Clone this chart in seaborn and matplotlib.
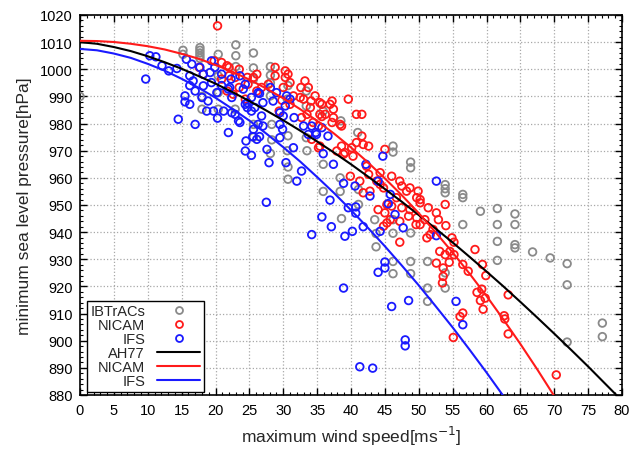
import matplotlib
matplotlib.use("Agg")
import matplotlib.pyplot as plt
from matplotlib.lines import Line2D
from matplotlib.ticker import MultipleLocator
import seaborn as sns
import pandas as pd

# ---------------- data ----------------
ibtracs_v = [0, 15.2, 15.2, 17.7, 17.7, 17.7, 17.7, 17.7, 18, 18, 20.4, 20.4, 20.4, 20.4,
             23, 23, 23, 22.9, 25.6, 25.6, 25.6, 25.6, 25.6, 28.1, 28.1, 28.1, 28.1, 28.3,
             28.3, 28.1, 30.7, 30.6, 30.7, 30.6, 30.7, 30.7, 33.4, 33.4, 33.4, 33.5, 35.9,
             35.9, 35.9, 38.5, 38.4, 38.4, 38.6, 41, 41.1, 41.1, 43.5, 43.7, 43.7, 46.2,
             46.2, 46.2, 46.2, 46.2, 46.2, 48.8, 48.8, 48.8, 48.8, 48.8, 51.3, 51.3, 51.3,
             53.9, 53.9, 53.9, 53.9, 53.9, 56.5, 56.5, 56.5, 59.1, 61.6, 61.6, 61.6, 61.6,
             64.2, 64.2, 64.2, 64.2, 66.8, 69.4, 71.9, 71.9, 71.9, 77.1, 77.1]
ibtracs_p = [990, 1007, 1005.5, 1008, 1007, 1006, 1005, 1004, 990, 985.3, 1005.5, 997.6,
             991.4, 985.3, 1009, 1005, 1001, 985.3, 1006, 1000.5, 996.4, 979.7, 975, 1001,
             997.8, 995, 990.2, 979.7, 974, 969, 994, 989, 975.5, 970, 964, 959.5, 992,
             986.5, 974.8, 970, 984.6, 965, 955, 981, 960, 955, 945, 976.7, 955.7, 950.2,
             944.6, 939.5, 934.6, 971.7, 969.5, 944.6, 939.6, 929.2, 924.7, 965.8, 963.7,
             939.7, 929.2, 924.7, 929.2, 919.4, 914.5, 957.5, 956, 954.5, 925, 919.4, 953.9,
             952.7, 942.8, 947.7, 948.7, 942.8, 936.6, 929.6, 946.7, 942.8, 935.4, 934.2,
             932.7, 930.5, 928.4, 920.6, 899.5, 906.5, 901.5]

nicam_pts = [
    (20.3, 1016), (17.6, 1000.7), (18.2, 998.2), (19.8, 1003.1), (20.9, 1002.5), (21.7, 1001.3),
    (22, 1000.7), (22, 997.6), (20.9, 996.4), (22.9, 997), (24.7, 997), (25.6, 997), (26.1, 998.2),
    (24.8, 994.5), (23.5, 993.3), (22.6, 990.8), (24.4, 989), (26.8, 993.3), (27.8, 994.5),
    (28.8, 1000.7), (28.8, 997.6), (30.3, 999.4), (30.3, 997), (30.7, 998.2), (31, 995.1),
    (30, 993.3), (31.5, 990.2), (32.5, 989.6), (32.6, 993.3), (32.7, 982.2), (33.5, 983.4),
    (34, 985.9), (34.1, 988.3), (34.7, 990.2), (33.7, 993.3), (33.2, 995.7), (35.2, 979.1),
    (35.4, 983.4), (34.2, 974.2), (35.2, 971.1), (26.1, 992), (21.7, 992), (23.5, 1000),
    (29.4, 984.6), (29.8, 988.6), (31, 987.1), (35.4, 987.7), (36.9, 987.1), (37.4, 982.2),
    (38.4, 979.7), (33, 989), (35.7, 987.1), (37.2, 988.3), (37.4, 985.3), (39.6, 989),
    (35.7, 982.6), (36.2, 983.4), (37.2, 980.4), (38.6, 979.1), (34.4, 980.4), (40.8, 983.4),
    (41.6, 983.4), (41.6, 975.4), (41.8, 972.3), (40.8, 973), (42.6, 971.7), (40.1, 971.1),
    (39.1, 969.3), (35.4, 971.7), (37.9, 969.9), (38.6, 971.7), (38.9, 968.7), (40.3, 968),
    (45, 970.5), (39.9, 960.6), (41.3, 958.8), (42.3, 964.3), (42.6, 961.3), (43.8, 958.8),
    (44.3, 961.9), (42.8, 955.1), (41.8, 954.5), (44.3, 957.6), (44.8, 956.3), (46, 960.6),
    (47.2, 958.8), (47.5, 957), (48.2, 955.1), (48.7, 956.3), (49.9, 955.1), (49.7, 952.7),
    (46.7, 952.7), (46, 949.6), (47.5, 949), (48.7, 948.3), (50.2, 950.8), (51.4, 949),
    (53.9, 950.2), (52.6, 947.1), (52.9, 944.6), (49.7, 945.3), (48.5, 945.9), (45, 947.1),
    (45.8, 944.6), (47.2, 944), (50.2, 942.8), (44.8, 942.2), (45.3, 950.2), (44, 948.3),
    (50.2, 952), (54, 942.4), (52.1, 941), (50.9, 944.6), (49.6, 942.8), (45.3, 943.4),
    (54.9, 937.9), (55.2, 936.3), (54.6, 932.9), (55.2, 931.7), (54.5, 928.9), (53.6, 926.8),
    (53.6, 923.7), (53.5, 921.3), (56.5, 928.1), (57.3, 925.6), (58.3, 933.6), (59.4, 928.1),
    (59.9, 924), (58.6, 917.8), (59.3, 919), (59.8, 915.7), (59.1, 914.8), (59.5, 911.6),
    (63.2, 916.9), (62.6, 909.2), (62.7, 908), (63.2, 902.5), (56.1, 908.9), (56.5, 910.2),
    (55.1, 901.2), (70.3, 887.4), (47.2, 936.3), (51.2, 937.9), (52.6, 928.6), (53.9, 931.7),
    (53.1, 932.9), (51.7, 939.1),
]

ifs_pts = [
    (9.7, 996.4), (10.3, 1005), (11.2, 1004.6), (12.1, 1001.3), (13.1, 999.4), (14.3, 1000.3),
    (14.5, 981.6), (15.5, 990.2), (15.5, 988), (16.2, 987.1), (15.7, 1003.7), (16.5, 1001.9),
    (16.2, 997.6), (16.7, 995.7), (16.2, 994), (17, 992), (17.7, 1000.7), (18.2, 998.2),
    (18.2, 993.9), (18, 989.6), (17, 979.7), (18.9, 988.3), (18.7, 984.6), (19.4, 1003.1),
    (19.9, 1000.7), (19.2, 998.8), (19.4, 995.1), (20.2, 991.4), (20.3, 982), (19.7, 984.6),
    (20.9, 998.2), (20.9, 994), (21.2, 984.6), (21.9, 976.7), (22.4, 984), (23.4, 981),
    (22.4, 989.6), (21.9, 992.7), (24.5, 973.6), (24.4, 969.9), (25.3, 968.3), (25.5, 975.2),
    (26.5, 975.2), (26.3, 979.7), (27, 979.1), (27.6, 970.5), (27.9, 965.6), (27.5, 951),
    (29.5, 979.7), (29.9, 977.9), (30.4, 965.6), (31.5, 971.1), (32, 958.8), (32.7, 962.5),
    (24.7, 987.7), (24.7, 985.9), (25.8, 985.9), (26.3, 991.4), (28.1, 993.3), (25.3, 989.6),
    (24.1, 992.7), (23.6, 997.6), (22.1, 993.3), (22.3, 996.4), (29.5, 984), (30, 982.8),
    (30.3, 986.5), (30.5, 990.2), (31, 989), (31.6, 982.2), (33, 979.1), (34.2, 979.1),
    (33.7, 976), (34.8, 976.7), (29, 991.4), (24.4, 994.5), (26.5, 991.1), (28.5, 988.3),
    (27, 987.7), (24.4, 987.1), (22.9, 983.4), (25.3, 984.6), (26.8, 982.8), (25.6, 977.9),
    (35.7, 978.5), (23.6, 980.4), (26.1, 974.2), (29.5, 974.8), (35.9, 968.9), (37.4, 965),
    (36.9, 951.8), (38.9, 958), (40.6, 957), (39.6, 949), (40.7, 949.3), (40.7, 947),
    (42.2, 965), (42.8, 953.3), (44, 958.8), (44.7, 968), (45.5, 950.5), (35.7, 945.6),
    (37.1, 942), (34.2, 939.1), (39.1, 938.5), (40.2, 940.3), (41.8, 942), (44.3, 940.3),
    (45, 929), (45, 926.8), (44, 925.2), (38.9, 919.4), (48.5, 914.8), (46, 912.6),
    (48, 900.3), (48, 898.1), (41.3, 890.4), (43.2, 889.9), (55.5, 914.5), (56.5, 905.9),
    (46.5, 946.5), (47.7, 941.6), (52.6, 938.7), (34.9, 976), (36.6, 975.4), (45.8, 953.9),
    (52.6, 958.8),
]

# fitted curves (values read every 2.5 m/s)
curve_v = [0, 2.5, 5, 7.5, 10, 12.5, 15, 17.5, 20, 22.5, 25, 27.5, 30, 32.5, 35, 37.5, 40,
           42.5, 45, 47.5, 50, 52.5, 55, 57.5, 60, 62.5, 65, 67.5, 70, 72.5, 75, 77.5, 80]
ah77_p = [1010, 1009.4, 1008.2, 1006.7, 1004.8, 1002.6, 1000.2, 997.5, 994.7, 991.6, 988.3,
          984.8, 981.2, 977.4, 973.4, 969.3, 965, 960.5, 955.9, 951.2, 946.3, 941.3, 936.2,
          930.9, 925.5, 920, 914.3, 908.5, 902.6, 896.6, 890.5, 884.2, 877.9]
nicam_fit_p = [1010.5, 1010.4, 1010.05, 1009.4, 1008.5, 1007.3, 1005.7, 1003.9, 1001.6,
               999.1, 996.2, 992.9, 989.3, 985.3, 981, 976.3, 971.2, 965.7, 959.8, 953.6,
               947, 939.9, 932.5, 924.7, 916.5, 907.8, 898.8, 889.4, 879.6, 869.2, 859.8,
               850, 838]
ifs_fit_p = [1007.5, 1007, 1005.8, 1004.2, 1002, 999.5, 996.5, 993.2, 989.5, 985.4, 981.1,
             976.3, 971.3, 966, 960.3, 954.4, 948.1, 941.6, 934.8, 927.7, 920.4, 912.7,
             904.9, 896.7, 888.3, 879.6, 870.7, 861, 852, 842, 832, 821, 811]

x_ticks = list(range(0, 81, 5))
y_ticks = list(range(880, 1021, 10))

# ---------------- plotting ----------------
sns.set_style("ticks")
plt.rcParams["font.family"] = ["Liberation Sans", "DejaVu Sans"]

GRAY = "#8a8a8a"
RED = "#ff1a1a"
BLUE = "#1a1aff"

fig = plt.figure(figsize=(6.33, 4.52), dpi=100)
ax = fig.add_axes([80 / 633, 1 - 396 / 452, 542 / 633, 380 / 452])

df_ib = pd.DataFrame({"v": ibtracs_v, "p": ibtracs_p})
df_ni = pd.DataFrame(nicam_pts, columns=["v", "p"])
df_if = pd.DataFrame(ifs_pts, columns=["v", "p"])

sc_kw = dict(marker="o", s=30, facecolors="none", linewidth=1.3, legend=False, zorder=3)
sns.scatterplot(data=df_ib, x="v", y="p", ax=ax, edgecolors=GRAY, **sc_kw)
sns.scatterplot(data=df_ni, x="v", y="p", ax=ax, edgecolors=RED, **sc_kw)
sns.scatterplot(data=df_if, x="v", y="p", ax=ax, edgecolors=BLUE, **sc_kw)

df_c = pd.DataFrame({"v": curve_v, "ah": ah77_p, "ni": nicam_fit_p, "if": ifs_fit_p})
sns.lineplot(data=df_c, x="v", y="ah", ax=ax, color="black", linewidth=1.5, zorder=4)
sns.lineplot(data=df_c, x="v", y="ni", ax=ax, color=RED, linewidth=1.5, zorder=4)
sns.lineplot(data=df_c, x="v", y="if", ax=ax, color=BLUE, linewidth=1.5, zorder=4)

ax.set_xlim(0, 80)
ax.set_ylim(880, 1020)
ax.set_xticks(x_ticks)
ax.set_yticks(y_ticks)
ax.xaxis.set_minor_locator(MultipleLocator(1))
ax.yaxis.set_minor_locator(MultipleLocator(2))
ax.tick_params(which="both", direction="in", top=True, right=True, colors="black",
               labelsize=10.5)
ax.tick_params(which="major", length=5, width=1)
ax.tick_params(which="minor", length=2.5, width=0.8)
ax.tick_params(axis="x", pad=6)
ax.tick_params(axis="y", pad=5)
ax.grid(True, which="major", linestyle=":", color="#a8a8a8", linewidth=0.9)
ax.set_axisbelow(True)
for s in ax.spines.values():
    s.set_color("black")
    s.set_linewidth(1.2)

ax.set_xlabel("maximum wind speed[ms$^{-1}$]", fontsize=12.5, labelpad=5)
ax.set_ylabel("minimum sea level pressure[hPa]", fontsize=12.5, labelpad=6)

handles = [
    Line2D([], [], linestyle="none", marker="o", markerfacecolor="none",
           markeredgecolor=GRAY, markersize=5, markeredgewidth=1.3),
    Line2D([], [], linestyle="none", marker="o", markerfacecolor="none",
           markeredgecolor=RED, markersize=5, markeredgewidth=1.3),
    Line2D([], [], linestyle="none", marker="o", markerfacecolor="none",
           markeredgecolor=BLUE, markersize=5, markeredgewidth=1.3),
    Line2D([], [], color="black", linewidth=1.5),
    Line2D([], [], color=RED, linewidth=1.5),
    Line2D([], [], color=BLUE, linewidth=1.5),
]
labels = ["IBTrACs", "NICAM", "IFS", "AH77", "NICAM", "IFS"]
leg = ax.legend(handles, labels, loc="lower left", bbox_to_anchor=(0.012, 0.008),
                markerfirst=False, fancybox=False, frameon=True, fontsize=10.5,
                handlelength=3.0, handletextpad=0.8, labelspacing=0.0,
                borderpad=0.25, borderaxespad=0.0)
leg.get_frame().set_edgecolor("black")
leg.get_frame().set_linewidth(1.0)
leg.get_frame().set_facecolor("white")
leg.get_frame().set_alpha(1)
leg.set_zorder(10)

fig.savefig("out.png", dpi=100)
